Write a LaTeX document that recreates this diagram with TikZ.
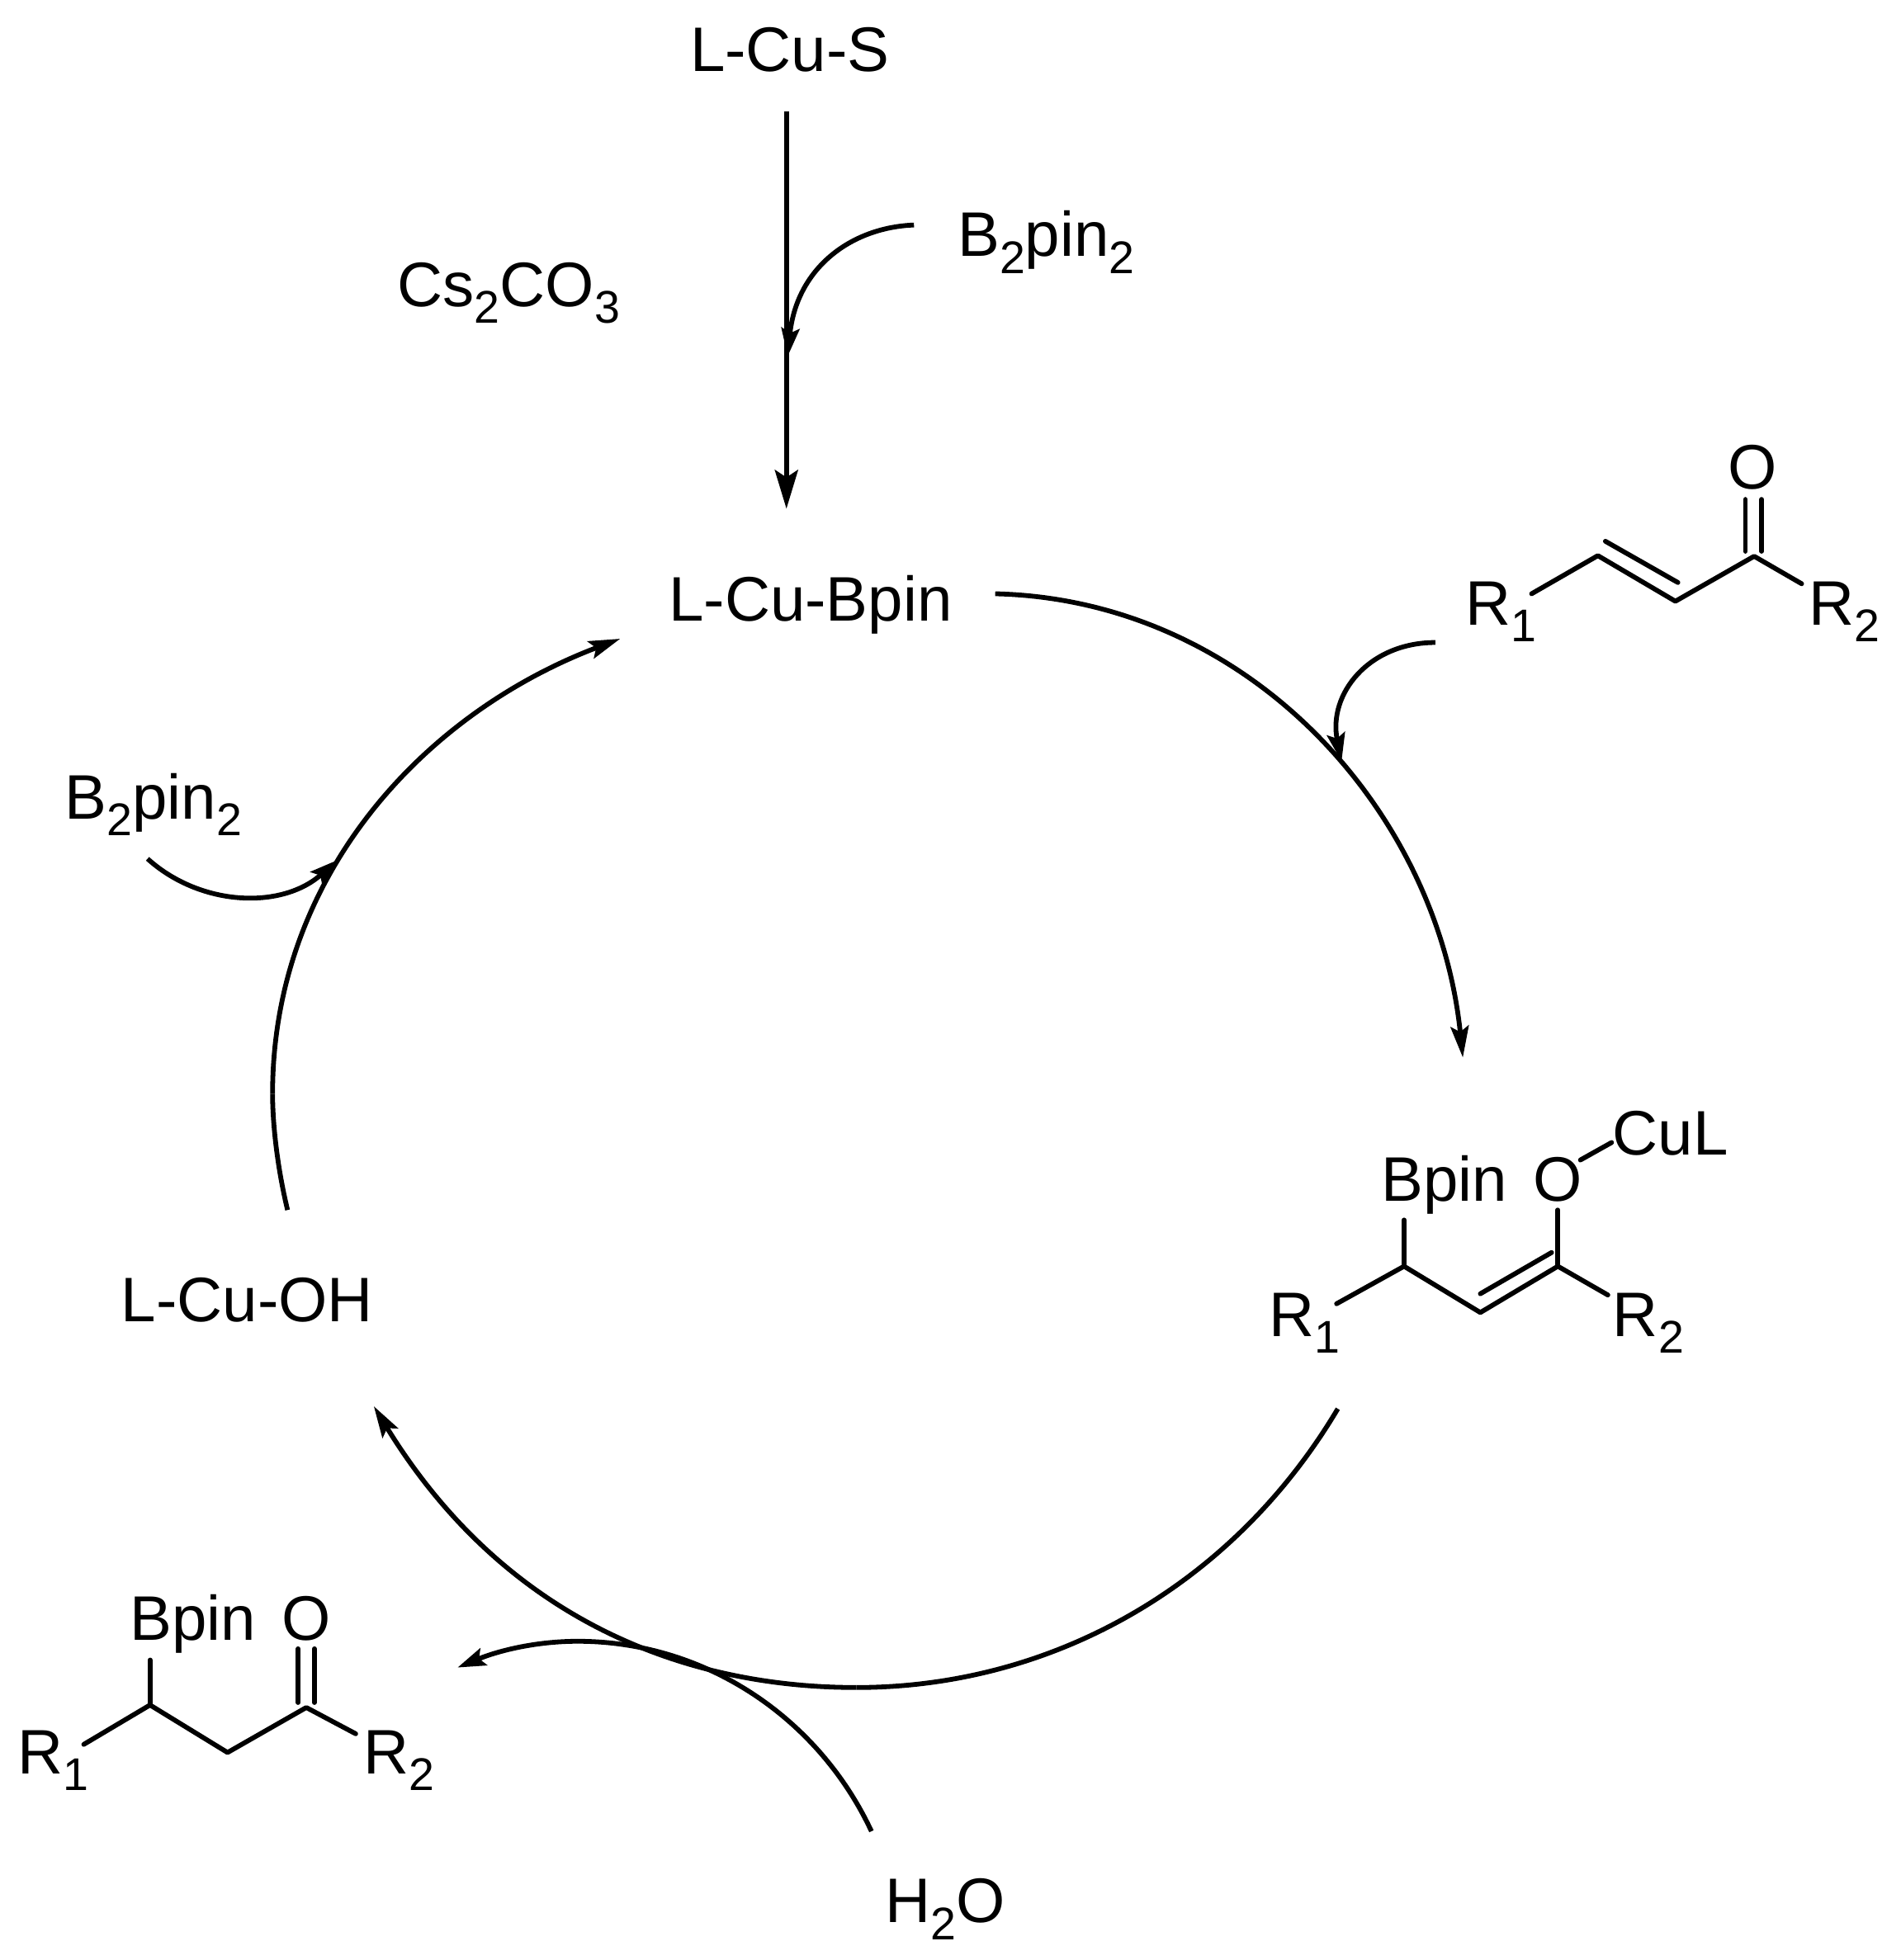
\documentclass[tikz,border=0pt]{standalone}
\usepackage{fontspec}
\setmainfont{Liberation Sans}
\usetikzlibrary{arrows.meta}
\newcommand{\sbs}[1]{\raisebox{-0.27em}{\fontsize{15.8pt}{15.8pt}\selectfont #1}}
\tikzset{
  lbl/.style={anchor=base west,inner sep=0pt,outer sep=0pt,font=\fontsize{21.7pt}{24pt}\selectfont},
  lblc/.style={anchor=base,inner sep=0pt,outer sep=0pt,font=\fontsize{21.7pt}{24pt}\selectfont},
  bond/.style={line width=1.65pt,line cap=round,line join=round,black},
  curve/.style={line width=1.65pt,black},
  bigtip/.style={-{Stealth[length=0.47cm,width=0.28cm,inset=0.09cm]}},
  midtip/.style={-{Stealth[length=0.38cm,width=0.22cm,inset=0.07cm]}},
  smalltip/.style={-{Stealth[length=0.34cm,width=0.22cm,inset=0.06cm]}}
}
\begin{document}
\begin{tikzpicture}[x=0.015145cm,y=-0.015145cm]
\useasboundingbox (0,0) rectangle (1520,1568);
% labels
\node[lbl] (lcus) at (552,57) {L-Cu-S};
\node[lbl] (b2top) at (766,205) {B\sbs{2}pin\sbs{2}};
\node[lbl] (cs) at (318,245) {Cs\sbs{2}CO\sbs{3}};
\node[lbl] (lcubpin) at (535,497) {L-Cu-Bpin};
\node[lbl] (lcuoh) at (97,1057) {L-Cu-OH};
\node[lbl] (b2left) at (52,655) {B\sbs{2}pin\sbs{2}};
\node[lbl] (water) at (708,1538) {H\sbs{2}O};
% enone
\node[lblc] (eO) at (1402,391) {O};
\node[lbl] (eR1) at (1172,500) {R\sbs{1}};
\node[lbl] (eR2) at (1447,500) {R\sbs{2}};
\coordinate (e0) at (1225,475);
\coordinate (e1) at (1278,444.5);
\coordinate (e2) at (1340,481);
\coordinate (e3) at (1403,445);
\coordinate (e4) at (1441,467);
\coordinate (e5) at (1284,433);
\coordinate (e6) at (1342,466);
\coordinate (e7) at (1396,399.5);
\coordinate (e8) at (1396,441);
\coordinate (e9) at (1409,399.5);
\coordinate (e10) at (1409,441);
\draw[bond] (e0) -- (e1) -- (e2) -- (e3) -- (e4);
\draw[bond] (e5) -- (e6);
\draw[bond] (e7) -- (e8);
\draw[bond] (e9) -- (e10);
% enolate
\node[lbl] (iB) at (1105,961) {Bpin};
\node[lblc] (iO) at (1246,961) {O};
\node[lbl] (iCu) at (1290,924) {CuL};
\node[lbl] (iR1) at (1015,1069) {R\sbs{1}};
\node[lbl] (iR2) at (1290,1069) {R\sbs{2}};
\coordinate (i0) at (1069,1043);
\coordinate (i1) at (1123,1013);
\coordinate (i2) at (1184,1050);
\coordinate (i3) at (1246,1013);
\coordinate (i4) at (1286,1036);
\coordinate (i5) at (1123,976);
\coordinate (i6) at (1184,1035);
\coordinate (i7) at (1241,1002);
\coordinate (i8) at (1246,968);
\coordinate (i9) at (1264,928);
\coordinate (i10) at (1289,914);
\draw[bond] (i0) -- (i1) -- (i2) -- (i3) -- (i4);
\draw[bond] (i1) -- (i5);
\draw[bond] (i6) -- (i7);
\draw[bond] (i3) -- (i8);
\draw[bond] (i9) -- (i10);
% product
\node[lbl] (pB) at (104,1312) {Bpin};
\node[lblc] (pO) at (245,1312) {O};
\node[lbl] (pR1) at (14,1419) {R\sbs{1}};
\node[lbl] (pR2) at (291,1419) {R\sbs{2}};
\coordinate (p0) at (67,1395.5);
\coordinate (p1) at (120,1364);
\coordinate (p2) at (182,1402);
\coordinate (p3) at (245,1366);
\coordinate (p4) at (284.5,1387);
\coordinate (p5) at (120,1328);
\coordinate (p6) at (238.5,1319);
\coordinate (p7) at (238.5,1362);
\coordinate (p8) at (251.5,1319);
\coordinate (p9) at (251.5,1362);
\draw[bond] (p0) -- (p1) -- (p2) -- (p3) -- (p4);
\draw[bond] (p1) -- (p5);
\draw[bond] (p6) -- (p7);
\draw[bond] (p8) -- (p9);
% arrow end points
\coordinate (a0) at (629,89);
\coordinate (a1) at (629,407);
\coordinate (b0) at (731,180);
\coordinate (b1) at (630,285);
\coordinate (c0) at (796,475);
\coordinate (c1) at (1170,846);
\coordinate (d0) at (1148,514);
\coordinate (d1) at (1073,609);
\coordinate (f0) at (1070,1127);
\coordinate (f1) at (685,1350);
\coordinate (f2) at (299,1125);
\coordinate (g0) at (697,1465);
\coordinate (g1) at (462,1313);
\coordinate (g2) at (366,1334);
\coordinate (h0) at (230,968);
\coordinate (h1) at (218,875);
\coordinate (h2) at (496,511);
\coordinate (k0) at (118,687);
\coordinate (k1) at (270,688);
% arrows
\draw[curve,bigtip] (a0) -- (a1);
\draw[curve,smalltip] (b0) .. controls (680,182) and (637,215) .. (b1);
\draw[curve,midtip] (c0) .. controls (1000,480) and (1150,650) .. (c1);
\draw[curve,smalltip] (d0) .. controls (1095,514) and (1062,555) .. (d1);
\draw[curve] (f0) .. controls (985,1270) and (840,1350) .. (f1);
\draw[curve,midtip] (f1) .. controls (540,1350) and (400,1290) .. (f2);
\draw[curve] (g0) .. controls (655,1375) and (565,1313) .. (g1);
\draw[curve,smalltip] (g1) .. controls (430,1313) and (400,1320) .. (g2);
\draw[curve] (h0) .. controls (222,935) and (218,900) .. (h1);
\draw[curve,midtip] (h1) .. controls (218,700) and (340,570) .. (h2);
\draw[curve,smalltip] (k0) .. controls (160,725) and (225,728) .. (k1);
\end{tikzpicture}
\end{document}
